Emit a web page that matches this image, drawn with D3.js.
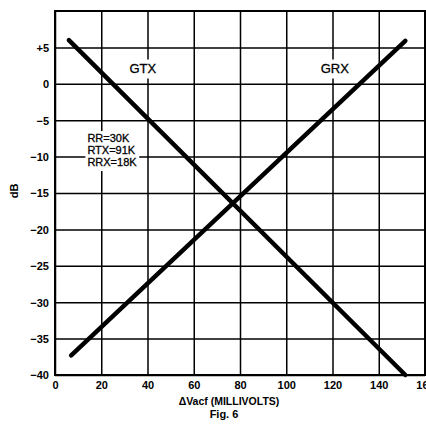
<!DOCTYPE html>
<html>
<head>
<meta charset="utf-8">
<script src="https://cdn.jsdelivr.net/npm/d3@7"></script>
<style>
  body { margin: 0; background: #fff; }
  svg { display: block; font-family: "Liberation Sans", Arial, sans-serif; }
</style>
</head>
<body>
<div id="chart"></div>
<script>
// values
const xTicks = [0, 20, 40, 60, 80, 100, 120, 140, 160];
const yTicks = [-40, -35, -30, -25, -20, -15, -10, -5, 0, 5];
const gtxLine = [[6, 6], [151.5, -40]];
const grxLine = [[7, -37.3], [151.5, 5.9]];
const noteLines = ['RR=30K', 'RTX=91K', 'RRX=18K'];

const W = 426, H = 424;
const margin = {top: 11, right: 1, bottom: 49, left: 55};
const width = W - margin.left - margin.right,
      height = H - margin.top - margin.bottom;

const svg = d3.select('#chart').append('svg')
    .attr('width', W)
    .attr('height', H);

const g = svg.append('g')
    .attr('transform', 'translate(' + margin.left + ',' + margin.top + ')');

const x = d3.scaleLinear().domain([0, 160]).range([0, width]);
const y = d3.scaleLinear().domain([-40, 10]).range([height, 0]);

const fmt = d => d > 0 ? '+' + d : (d < 0 ? '\u2212' + Math.abs(d) : '0');

// grid + tick labels
const yAxis = g.append('g')
    .call(d3.axisLeft(y).tickValues(yTicks).tickSize(-width).tickPadding(6).tickFormat(fmt));
const xAxis = g.append('g')
    .attr('transform', 'translate(0,' + height + ')')
    .call(d3.axisBottom(x).tickValues(xTicks).tickSize(-height).tickPadding(6).tickFormat(d => d));

[xAxis, yAxis].forEach(a => {
  a.select('.domain').remove();
  a.selectAll('line').attr('stroke', '#000').attr('stroke-width', 1.5);
  a.selectAll('text')
      .attr('fill', '#000')
      .attr('font-size', 11)
      .attr('font-weight', 'bold');
});
yAxis.selectAll('text').attr('dy', '0.36em');
xAxis.selectAll('text').attr('dy', '0.72em');

// frame
g.append('rect')
    .attr('width', width)
    .attr('height', height)
    .attr('fill', 'none')
    .attr('stroke', '#000')
    .attr('stroke-width', 2);

// labels with white backing
function label(parent, tx, ty, lines, anchor, size) {
  const grp = parent.append('g');
  const t = grp.append('text')
      .attr('font-size', size)
      .attr('fill', '#000')
      .attr('stroke', '#000')
      .attr('stroke-width', 0.3)
      .attr('text-anchor', anchor);
  lines.forEach((s, i) => {
    t.append('tspan').attr('x', tx).attr('y', ty + i * 12).text(s);
  });
  const b = t.node().getBBox();
  grp.insert('rect', 'text')
      .attr('x', b.x - 2).attr('y', b.y - 1)
      .attr('width', b.width + 4).attr('height', b.height + 4)
      .attr('fill', '#fff');
}

label(g, x(38), y(-0.1) - 11 - 1, ['GTX'], 'middle', 13);
label(g, x(121), y(-0.1) - 11 - 1, ['GRX'], 'middle', 13);
label(g, x(14), y(-8.0), noteLines, 'start', 11);

// data lines
const line = d3.line().x(d => x(d[0])).y(d => y(d[1]));
[gtxLine, grxLine].forEach(d => {
  g.append('path')
      .datum(d)
      .attr('d', line)
      .attr('fill', 'none')
      .attr('stroke', '#000')
      .attr('stroke-width', 4.5)
      .attr('stroke-linecap', 'round');
});

// axis titles
svg.append('text')
    .attr('transform', 'translate(18,191) rotate(-90)')
    .attr('text-anchor', 'middle')
    .attr('font-size', 11)
    .attr('font-weight', 'bold')
    .text('dB');

svg.append('text')
    .attr('x', 229).attr('y', 405)
    .attr('text-anchor', 'middle')
    .attr('font-size', 10.5)
    .attr('font-weight', 'bold')
    .text('\u0394Vacf (MILLIVOLTS)');

svg.append('text')
    .attr('x', 224).attr('y', 418)
    .attr('text-anchor', 'middle')
    .attr('font-size', 11)
    .attr('font-weight', 'bold')
    .text('Fig. 6');
</script>
</body>
</html>
